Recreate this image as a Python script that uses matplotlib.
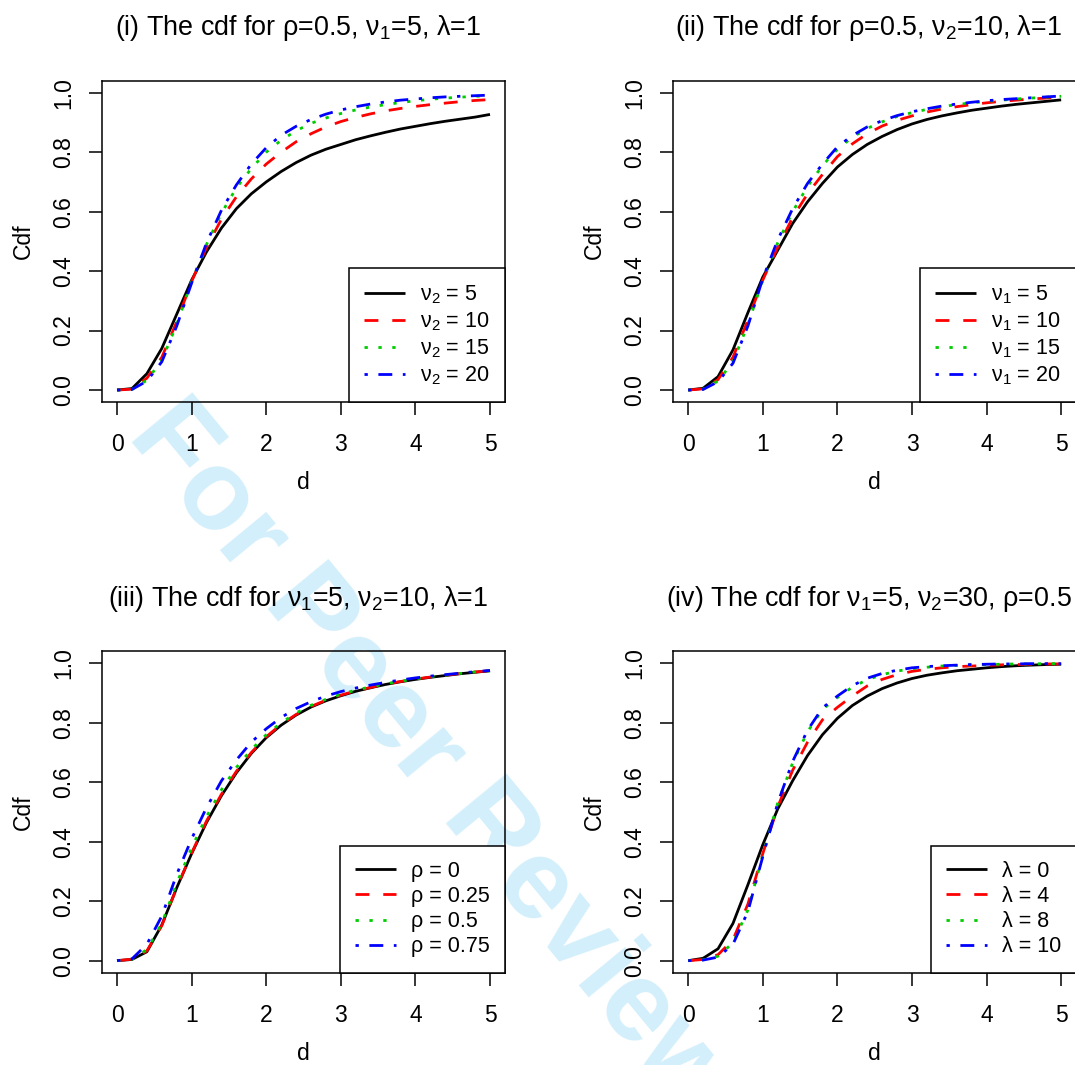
import matplotlib
matplotlib.use('Agg')
import matplotlib.pyplot as plt

plt.rcParams['font.family'] = ['Liberation Sans', 'DejaVu Sans']
plt.rcParams['mathtext.fontset'] = 'custom'
plt.rcParams['mathtext.rm'] = 'Liberation Sans'
plt.rcParams['mathtext.it'] = 'Liberation Sans'
plt.rcParams['mathtext.bf'] = 'Liberation Sans:bold'
plt.rcParams['mathtext.default'] = 'regular'

# grid of d values used for every curve
d = [0.0, 0.2, 0.4, 0.6, 0.8, 1.0, 1.2, 1.4, 1.6, 1.8, 2.0, 2.2, 2.4,
     2.6, 2.8, 3.0, 3.2, 3.4, 3.6, 3.8, 4.0, 4.2, 4.4, 4.6, 4.8, 5.0]

# (i) rho=0.5, nu1=5, lambda=1, varying nu2
p1_labels = [r'$\nu_2$ = 5', r'$\nu_2$ = 10', r'$\nu_2$ = 15', r'$\nu_2$ = 20']
p1_nu2_5 = [0, .005, .055, .14, .255, .37, .465, .545, .61, .66, .70, .735, .765,
            .79, .81, .826, .842, .855, .867, .878, .887, .896, .904, .911, .918, .927]
p1_nu2_10 = [0, .003, .04, .11, .23, .365, .48, .575, .65, .71, .76, .80, .835,
             .862, .885, .903, .917, .929, .939, .947, .954, .96, .965, .97, .974, .977]
p1_nu2_15 = [0, .002, .033, .10, .22, .365, .49, .595, .68, .745, .80, .84, .872,
             .897, .915, .93, .942, .952, .96, .967, .973, .978, .982, .985, .988, .99]
p1_nu2_20 = [0, .002, .03, .095, .215, .36, .495, .605, .69, .76, .815, .857, .887,
             .91, .928, .942, .953, .962, .969, .975, .979, .983, .986, .988, .99, .992]

# (ii) rho=0.5, nu2=10, lambda=1, varying nu1
p2_labels = [r'$\nu_1$ = 5', r'$\nu_1$ = 10', r'$\nu_1$ = 15', r'$\nu_1$ = 20']
p2_nu1_5 = [0, .006, .045, .135, .26, .38, .47, .56, .633, .695, .75, .792, .826,
            .853, .876, .895, .91, .922, .932, .941, .948, .955, .961, .966, .971, .976]
p2_nu1_10 = [0, .004, .035, .11, .235, .37, .48, .58, .66, .725, .785, .828, .862,
             .888, .907, .922, .935, .945, .953, .96, .966, .971, .975, .979, .982, .985]
p2_nu1_15 = [0, .003, .03, .095, .22, .37, .495, .60, .685, .755, .81, .85, .88,
             .902, .92, .933, .944, .953, .96, .966, .971, .975, .979, .982, .985, .988]
p2_nu1_20 = [0, .002, .028, .09, .215, .375, .505, .61, .695, .76, .818, .856, .885,
             .906, .923, .936, .946, .955, .962, .968, .973, .977, .98, .983, .986, .989]

# (iii) nu1=5, nu2=10, lambda=1, varying rho
p3_labels = ['ρ = 0', 'ρ = 0.25', 'ρ = 0.5', 'ρ = 0.75']
p3_rho_0 = [0, .004, .03, .12, .245, .36, .465, .555, .632, .697, .75, .792, .826,
            .853, .874, .891, .906, .918, .929, .938, .946, .953, .959, .965, .97, .975]
p3_rho_25 = [0, .005, .033, .118, .245, .362, .47, .56, .637, .70, .753, .795, .828,
             .855, .876, .893, .907, .919, .93, .939, .947, .954, .96, .966, .971, .975]
p3_rho_5 = [0, .005, .037, .125, .26, .38, .485, .575, .65, .71, .76, .80, .833,
            .859, .879, .896, .91, .921, .931, .94, .948, .955, .96, .966, .971, .975]
p3_rho_75 = [0, .006, .055, .15, .29, .41, .515, .605, .675, .735, .78, .818, .848,
             .871, .89, .905, .917, .927, .936, .944, .951, .957, .962, .967, .972, .976]

# (iv) nu1=5, nu2=30, rho=0.5, varying lambda
p4_labels = ['λ = 0', 'λ = 4', 'λ = 8', 'λ = 10']
p4_lam_0 = [0, .008, .04, .125, .255, .39, .51, .605, .69, .76, .815, .858, .89,
            .915, .934, .949, .96, .968, .975, .98, .985, .989, .992, .994, .996, .997]
p4_lam_4 = [0, .004, .02, .07, .19, .36, .517, .64, .735, .81, .852, .89, .924,
            .946, .962, .973, .98, .985, .989, .991, .993, .995, .996, .997, .998, .998]
p4_lam_8 = [0, .003, .015, .06, .17, .355, .53, .665, .77, .845, .885, .92, .945,
            .962, .974, .982, .987, .991, .993, .995, .996, .997, .998, .998, .999, .999]
p4_lam_10 = [0, .002, .012, .055, .165, .35, .53, .67, .775, .85, .89, .925, .95,
             .966, .977, .985, .989, .992, .994, .996, .997, .998, .998, .999, .999, .999]

titles = [r'(i) The cdf for ρ=0.5, $\nu_1$=5, λ=1',
          r'(ii) The cdf for ρ=0.5, $\nu_2$=10, λ=1',
          r'(iii) The cdf for $\nu_1$=5, $\nu_2$=10, λ=1',
          r'(iv) The cdf for $\nu_1$=5, $\nu_2$=30, ρ=0.5']

panels = [
    (p1_labels, [p1_nu2_5, p1_nu2_10, p1_nu2_15, p1_nu2_20]),
    (p2_labels, [p2_nu1_5, p2_nu1_10, p2_nu1_15, p2_nu1_20]),
    (p3_labels, [p3_rho_0, p3_rho_25, p3_rho_5, p3_rho_75]),
    (p4_labels, [p4_lam_0, p4_lam_4, p4_lam_8, p4_lam_10]),
]

colors = ['black', '#ff0000', '#00cd00', '#0000ff']
styles = ['-', (0, (5, 5)), (0, (1.2, 3.8)), (0, (1.2, 3.8, 5, 3.8))]

fig = plt.figure(figsize=(10.75, 10.65), dpi=100)

# watermark behind the axes
fig.text(0.117, 0.590, 'For Peer Review', rotation=-50.5, rotation_mode='anchor',
         ha='left', va='baseline', fontsize=82, fontweight='bold',
         color='#d2effb', zorder=-1)

positions = [[0.0950, 0.6226, 0.3747, 0.3015],
             [0.6263, 0.6226, 0.3747, 0.3015],
             [0.0950, 0.0868, 0.3747, 0.3015],
             [0.6263, 0.0868, 0.3747, 0.3015]]

tick_fs = 16.5
for k in range(4):
    ax = fig.add_axes(positions[k])
    ax.set_facecolor('none')
    labels, series = panels[k]
    for j in range(4):
        ax.plot(d, series[j], color=colors[j], linestyle=styles[j], lw=2,
                dash_capstyle='butt', solid_capstyle='butt', label=labels[j])
    ax.set_xlim(-0.2, 5.2)
    ax.set_ylim(-0.04, 1.04)
    ax.set_xticks([0, 1, 2, 3, 4, 5])
    ax.set_yticks([0, 0.2, 0.4, 0.6, 0.8, 1.0])
    ax.set_yticklabels(['0.0', '0.2', '0.4', '0.6', '0.8', '1.0'])
    ax.tick_params(direction='out', length=9.4, width=1.1, labelsize=tick_fs,
                   pad=13)
    ax.tick_params(axis='y', labelrotation=90, pad=10)
    for lab in ax.get_yticklabels():
        lab.set_va('center')
    for sp in ax.spines.values():
        sp.set_linewidth(1.1)
    ax.set_title(titles[k], fontsize=19.4, pad=33, x=0.5 - 6 / 403)
    ax.set_xlabel('d', fontsize=tick_fs, va='baseline')
    ax.xaxis.set_label_coords(0.5, -0.272)
    ax.set_ylabel('Cdf', fontsize=tick_fs, va='baseline')
    ax.yaxis.set_label_coords(-0.179, 0.5)
    leg = ax.legend(loc='lower right', borderaxespad=0, fancybox=False,
                    edgecolor='black', framealpha=1, fontsize=15.5,
                    handlelength=1.9, handletextpad=0.7, borderpad=0.7,
                    labelspacing=0.2)
    leg.get_frame().set_linewidth(1.1)

fig.savefig('out.png', dpi=100)
